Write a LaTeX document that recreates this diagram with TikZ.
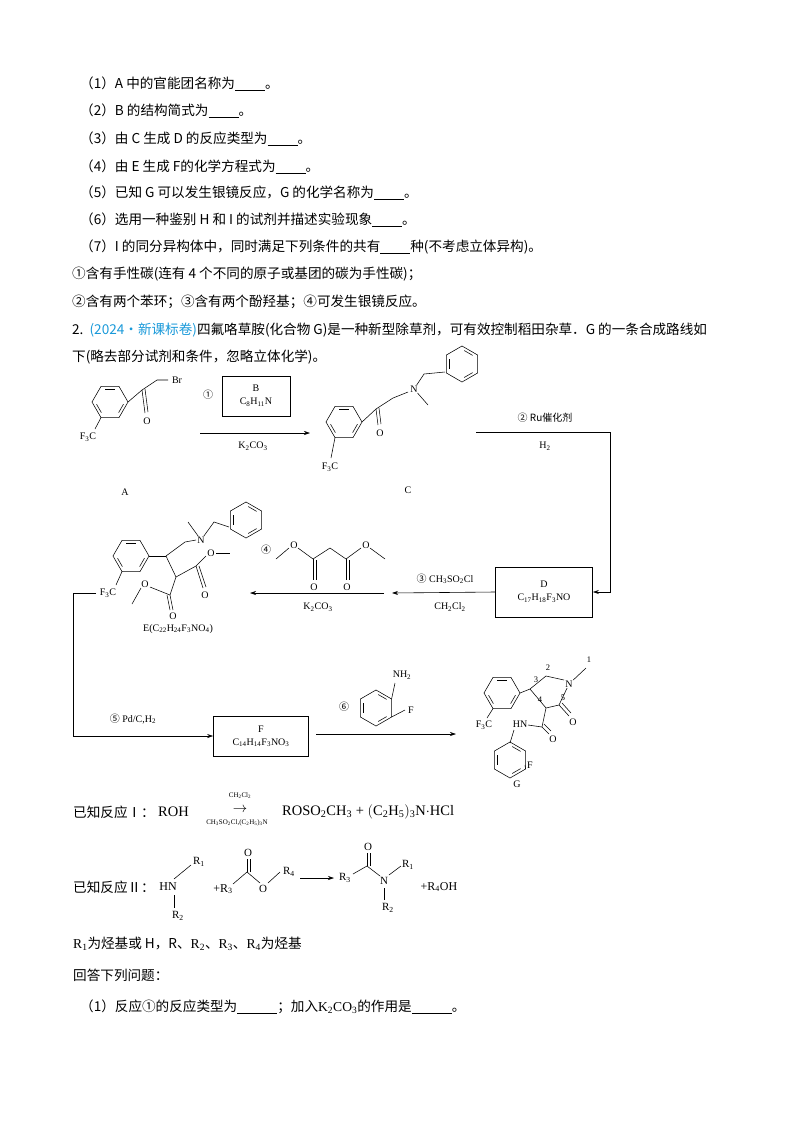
\documentclass[tikz,border=0pt]{standalone}
\usepackage{fontspec}
\setmainfont{Liberation Serif}
\newfontfamily\cjk{Noto Sans CJK SC}
\usetikzlibrary{calc,arrows.meta}
\newcommand\bl{\underline{\hspace{30pt}}}
\newcommand\sbs[1]{\textsubscript{#1}}
\newcommand\lat{\fontspec{Liberation Serif}}
\newcommand\benz[3]{% center, radius, start angle
  \draw[bond] ($(#1)+(#3:#2)$) \foreach \k in {1,...,5}{ -- ($(#1)+({#3+60*\k}:#2)$)} -- cycle;
  \foreach \k in {0,2,4}{\draw[bond] ($(#1)+({#3+60*\k+9}:{0.76*#2})$) -- ($(#1)+({#3+60*\k+51}:{0.76*#2})$);}}
\tikzset{
  txt/.style={anchor=west,inner sep=0,font=\cjk\fontsize{13.6}{15}\selectfont},
  ch/.style={inner sep=0.5pt,font=\fontsize{10}{11}\selectfont},
  chs/.style={inner sep=0.5pt,font=\fontsize{8.5}{9}\selectfont},
  bond/.style={line width=0.55pt},
  arr/.style={line width=0.6pt,-{Stealth[length=6pt,width=4pt]}},
  boxn/.style={draw,line width=0.6pt,align=center,font=\fontsize{10}{13}\selectfont}
}
\begin{document}
\begin{tikzpicture}[x=1pt,y=-1pt]
\useasboundingbox (0,0) rectangle (794,1122);
% questions
\node[txt] (q1) at (80,84) {（1）A 中的官能团名称为\bl 。};
\node[txt] (q2) at (80,111) {（2）B 的结构简式为\bl 。};
\node[txt] (q3) at (80,139) {（3）由 C 生成 D 的反应类型为\bl 。};
\node[txt] (q4) at (80,167) {（4）由 E 生成 F的化学方程式为\bl 。};
\node[txt] (q5) at (80,193) {（5）已知 G 可以发生银镜反应，G 的化学名称为\bl 。};
\node[txt] (q6) at (80,220) {（6）选用一种鉴别 H 和 I 的试剂并描述实验现象\bl 。};
\node[txt] (q7) at (80,247) {（7）I 的同分异构体中，同时满足下列条件的共有\bl 种(不考虑立体异构)。};
\node[txt] (c1) at (72,274) {①含有手性碳(连有 4 个不同的原子或基团的碳为手性碳)；};
\node[txt] (c2) at (72,302) {②含有两个苯环；③含有两个酚羟基；④可发生银镜反应。};
\node[txt] (p2) at (72,330) {2.\ \ {\color[rgb]{0.1,0.6,0.85}(2024·新课标卷)}四氟咯草胺(化合物 G)是一种新型除草剂，可有效控制稻田杂草．G 的一条合成路线如};
\node[txt] (p2b) at (72,357) {下(略去部分试剂和条件，忽略立体化学)。};
% ---- A
\coordinate (ra) at (110,402);
\benz{ra}{18}{0}
\draw[bond] ($(ra)+(0:18)$) -- (142,390) coordinate (a1);
\draw[bond] (a1) -- (145,413); \draw[bond] (a1)++(3,-1) -- (148,412);
\node[ch] (aO) at (147,421) {O};
\draw[bond] (a1) -- (157,380) -- (168,380);
\node[ch] (aBr) at (177,380) {Br};
\draw[bond] ($(ra)+(120:18)$) -- (95,429);
\node[ch] (aF) at (88,437) {F\sbs{3}C};
\node[ch] (aL) at (125,492) {A};
% ---- step 1
\node[boxn,minimum width=68pt,minimum height=40pt] (bB) at (256,396) {B\\C\sbs{8}H\sbs{11}N};
\node[ch,font=\cjk\fontsize{10}{11}\selectfont] (s1) at (208,395) {①};
\coordinate (a1s) at (200,433); \coordinate (a1e) at (310,433);
\draw[arr] (a1s) -- (a1e);
\node[ch] (k1) at (253,446) {K\sbs{2}CO\sbs{3}};
% ---- C
\coordinate (rc) at (344,422);
\benz{rc}{18}{0}
\draw[bond] ($(rc)+(0:18)$) -- (376,409) coordinate (cc1);
\draw[bond] (cc1) -- (378,425); \draw[bond] (cc1)++(3,-1) -- (381,424);
\node[ch] (cO) at (380,433) {O};
\draw[bond] (cc1) -- (393,398) -- (408,392);
\node[ch] (cN) at (414,389) {N};
\draw[bond] (cN) -- (428,405);
\draw[bond] (cN) -- (424,374) -- (445,372);
\coordinate (rc2) at (462,364);
\benz{rc2}{18}{30}
\draw[bond] ($(rc)+(120:18)$) -- (331,458);
\node[ch] (cF) at (330,467) {F\sbs{3}C};
\node[ch] (cL) at (408,490) {C};
% ---- step 2
\node[boxn,minimum width=97pt,minimum height=50pt] (bD) at (544,592) {D\\C\sbs{17}H\sbs{18}F\sbs{3}NO};
\coordinate (l2s) at (476,432); \coordinate (l2c) at (610,432);
\draw[arr] (l2s) -- (l2c) |- (bD.east);
\node[ch,font=\cjk\fontsize{10}{11}\selectfont] (s2) at (545,418) {② Ru催化剂};
\node[ch] (h2) at (545,446) {H\sbs{2}};
% ---- step 3
\coordinate (a3e) at (392,593);
\draw[arr] (bD.west) -- (a3e);
\node[ch,font=\fontsize{10}{11}\selectfont] (s3) at (445,579) {{\cjk ③} CH\sbs{3}SO\sbs{2}Cl};
\node[ch] (s3b) at (450,607) {CH\sbs{2}Cl\sbs{2}};
% ---- step 4
\coordinate (a4s) at (384,593); \coordinate (a4e) at (250,593);
\draw[arr] (a4s) -- (a4e);
\node[ch] (k4) at (318,607) {K\sbs{2}CO\sbs{3}};
\node[ch,font=\cjk\fontsize{10}{11}\selectfont] (s4) at (266,550) {④};
\draw[bond] (276,559) -- (289,548);
\node[ch] (mO1) at (294,545) {O};
\draw[bond] (298,548) -- (313,559) coordinate (m1);
\draw[bond] (m1) -- (313,580); \draw[bond] (316,560) -- (316,580);
\node[ch] (mO2) at (314,587) {O};
\draw[bond] (m1) -- (330,548) -- (346,559) coordinate (m2);
\draw[bond] (m2) -- (346,580); \draw[bond] (349,560) -- (349,580);
\node[ch] (mO3) at (347,587) {O};
\draw[bond] (m2) -- (361,548);
\node[ch] (mO4) at (366,545) {O};
\draw[bond] (370,548) -- (385,559);
% ---- E
\coordinate (re) at (131,556);
\benz{re}{18}{0}
\draw[bond] ($(re)+(0:18)$) -- (166,556) coordinate (e1);
\draw[bond] (e1) -- (185,542) -- (196,540);
\node[ch] (eN) at (201,540) {N};
\draw[bond] (eN) -- (188,522);
\draw[bond] (eN) -- (214,522) -- (229,527);
\coordinate (re2) at (246,520);
\benz{re2}{18}{30}
\draw[bond] (e1) -- (176,577) coordinate (e2);
\draw[bond] (e2) -- (196,566) coordinate (e3);
\draw[bond] (e3) -- (203,588); \draw[bond] (199,566) -- (206,587);
\node[ch] (eO1) at (205,595) {O};
\draw[bond] (e3) -- (206,556);
\node[ch] (eO2) at (211,553) {O};
\draw[bond] (216,553) -- (230,553);
\draw[bond] (e2) -- (170,595) coordinate (e4);
\draw[bond] (e4) -- (173,610); \draw[bond] (167,595) -- (170,610);
\node[ch] (eO3) at (173,616) {O};
\draw[bond] (e4) -- (150,587);
\node[ch] (eO4) at (145,584) {O};
\draw[bond] (141,588) -- (132,604);
\draw[bond] ($(re)+(120:18)$) -- (116,585);
\node[ch] (eF) at (108,593) {F\sbs{3}C};
\node[ch] (eL) at (178,629) {E(C\sbs{22}H\sbs{24}F\sbs{3}NO\sbs{4})};
% ---- step 5
\node[boxn,minimum width=95pt,minimum height=40pt] (bF) at (261,736) {F\\C\sbs{14}H\sbs{14}F\sbs{3}NO\sbs{3}};
\coordinate (l5a) at (96,593); \coordinate (l5b) at (73,593);
\draw[arr] (l5a) -- (l5b) |- (bF.west);
\node[ch,font=\fontsize{10}{11}\selectfont] (s5) at (133,719) {{\cjk ⑤} Pd/C,H\sbs{2}};
% ---- step 6
\coordinate (a6s) at (316,734); \coordinate (a6e) at (456,734);
\draw[arr] (a6s) -- (a6e);
\coordinate (rn) at (376,708);
\benz{rn}{18}{30}
\draw[bond] ($(rn)+(-30:18)$) -- (395,683);
\node[ch] (nNH) at (402,675) {NH\sbs{2}};
\draw[bond] ($(rn)+(30:18)$) -- (405,710);
\node[ch] (nF) at (411,710) {F};
\node[ch,font=\cjk\fontsize{10}{11}\selectfont] (s6) at (344,707) {⑥};
% ---- G
\coordinate (rg) at (502,693);
\benz{rg}{18}{0}
\draw[bond] ($(rg)+(120:18)$) -- (487,718);
\node[ch] (gF) at (484,725) {F\sbs{3}C};
\draw[bond] ($(rg)+(0:18)$) -- (530,689) coordinate (g3);
\draw[bond] (g3) -- (546,676) coordinate (g2) -- (564,680);
\node[ch] (gN) at (569,684) {N};
\draw[bond] (gN) -- (586,668);
\node[chs] (g1) at (589,660) {1};
\draw[bond] (gN) -- (559,705) coordinate (g5) -- (546,708) coordinate (g4) -- (g3);
\draw[bond] (g5) -- (569,716); \draw[bond] (562,703) -- (571,713);
\node[ch] (gO1) at (573,722) {O};
\node[chs] (gl2) at (548,668) {2};
\node[chs] (gl3) at (536,680) {3};
\node[chs] (gl4) at (540,700) {4};
\node[chs] (gl5) at (563,698) {5};
\draw[bond] (g4) -- (542,727) coordinate (ga);
\draw[bond] (ga) -- (549,734); \draw[bond] (544,724) -- (551,731);
\node[ch] (gO2) at (553,739) {O};
\draw[bond] (ga) -- (528,725);
\node[ch] (gHN) at (520,724) {HN};
\draw[bond] (514,730) -- (510,743);
\coordinate (rg2) at (510,760);
\benz{rg2}{18}{30}
\draw[bond] ($(rg2)+(30:18)$) -- (525,765);
\node[ch] (gFF) at (530,765) {F};
\node[ch] (gL) at (517,784) {G};
% ---- known reaction I
\node[txt] (k1t) at (73,812) {已知反应Ⅰ：};
\node[anchor=west,inner sep=0,font=\fontsize{14.5}{15}\selectfont] (roh) at (158,812) {ROH};
\node[inner sep=0,font=\fontsize{14}{14}\selectfont] (arI) at (240,810) {$\rightarrow$};
\node[inner sep=0,font=\fontsize{7}{7}\selectfont] (arIt) at (240,796) {CH\sbs{2}Cl\sbs{2}};
\node[inner sep=0,font=\fontsize{7}{7}\selectfont] (arIb) at (237,823) {CH\sbs{3}SO\sbs{2}Cl,(C\sbs{2}H\sbs{5})\sbs{3}N};
\node[anchor=west,inner sep=0,font=\fontsize{14.5}{15}\selectfont] (prI) at (282,812) {ROSO\sbs{2}CH\sbs{3} + $\big($C\sbs{2}H\sbs{5}$\big)$\sbs{3}N$\cdot$HCl};
% ---- known reaction II
\node[txt] (k2t) at (73,887) {已知反应Ⅱ：};
\node[ch,font=\fontsize{12}{12}\selectfont] (hn) at (168,887) {HN};
\draw[bond] (174,879) -- (191,865);
\node[ch,font=\fontsize{11}{12}\selectfont] (r1a) at (199,862) {R\sbs{1}};
\draw[bond] (174,895) -- (174,908);
\node[ch,font=\fontsize{11}{12}\selectfont] (r2a) at (178,916) {R\sbs{2}};
\node[ch,font=\fontsize{12}{12}\selectfont] (r3a) at (223,889) {+R\sbs{3}};
\draw[bond] (233,884) -- (247,872) coordinate (ec);
\draw[bond] (ec) -- (247,859); \draw[bond] (250,872) -- (250,859);
\node[ch,font=\fontsize{11}{12}\selectfont] (eOa) at (248,853) {O};
\draw[bond] (ec) -- (260,883);
\node[ch,font=\fontsize{11}{12}\selectfont] (eOb) at (263,889) {O};
\draw[bond] (268,883) -- (280,872);
\node[ch,font=\fontsize{11}{12}\selectfont] (r4a) at (289,872) {R\sbs{4}};
\coordinate (a2s) at (300,878); \coordinate (a2e) at (334,878);
\draw[arr] (a2s) -- (a2e);
\node[ch,font=\fontsize{11}{12}\selectfont] (r3b) at (345,878) {R\sbs{3}};
\draw[bond] (353,874) -- (367,866) coordinate (ac);
\draw[bond] (ac) -- (367,853); \draw[bond] (370,866) -- (370,853);
\node[ch,font=\fontsize{11}{12}\selectfont] (aOa) at (368,847) {O};
\draw[bond] (ac) -- (380,876);
\node[ch,font=\fontsize{11}{12}\selectfont] (aNb) at (384,881) {N};
\draw[bond] (389,875) -- (401,866);
\node[ch,font=\fontsize{11}{12}\selectfont] (r1b) at (408,865) {R\sbs{1}};
\draw[bond] (384,888) -- (384,900);
\node[ch,font=\fontsize{11}{12}\selectfont] (r2b) at (388,908) {R\sbs{2}};
\node[ch,font=\fontsize{12}{12}\selectfont] (r4b) at (439,887) {+R\sbs{4}OH};
% ---- tail
\node[txt] (rr) at (73,944) {{\lat R\sbs{1}}为烃基或 H，R、{\lat R\sbs{2}}、{\lat R\sbs{3}}、{\lat R\sbs{4}}为烃基};
\node[txt] (ans) at (73,975) {回答下列问题：};
\node[txt] (a1q) at (80,1007) {（1）反应①的反应类型为\underline{\hspace{40pt}}；加入{\lat K\sbs{2}CO\sbs{3}}的作用是\underline{\hspace{40pt}}。};
\end{tikzpicture}
\end{document}
